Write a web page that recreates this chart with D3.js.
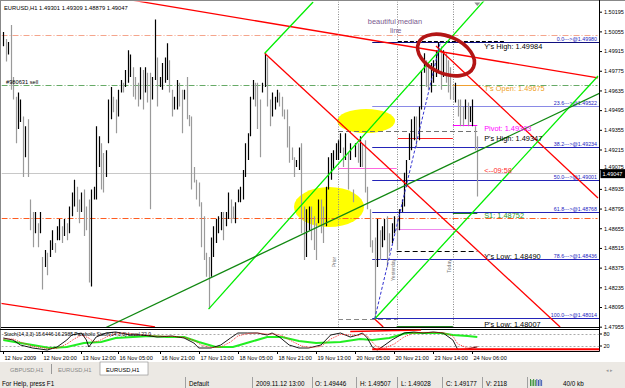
<!DOCTYPE html>
<html><head><meta charset="utf-8">
<script src="https://cdn.jsdelivr.net/npm/d3@7/dist/d3.min.js"></script>
<style>
html,body{margin:0;padding:0;background:#fff;}
svg{display:block;font-family:"Liberation Sans",Arial,sans-serif;}
</style></head><body>
<svg id="c" width="625" height="388"></svg>
<script>
// ---------- DATA ----------
const highs = [1.5005,1.5000,1.4998,1.5010,1.4973,1.4959,1.4962,1.4957,1.4945,1.4938,1.4943,1.4886,1.4877,1.4877,1.4869,1.4877,1.4845,1.4850,1.4848,1.4857,
1.4864,1.4855,1.4867,1.4872,1.4867,1.4872,1.4869,1.4881,1.4891,1.4900,1.4895,1.4886,1.4891,1.4893,1.4881,1.4886,1.4893,1.4895,1.4938,1.4931,
1.4926,1.4919,1.4921,1.4957,1.4966,1.4959,1.4957,1.4964,1.4971,1.4969,1.4978,1.4992,1.4989,1.4980,1.4973,1.4969,1.4980,1.4978,1.4980,1.4976,
1.4976,1.4973,1.5014,1.4987,1.4973,1.4983,1.4987,1.4997,1.4985,1.4964,1.4959,1.4971,1.4969,1.4964,1.4964,1.4973,1.4946,1.4945,1.4909,1.4900,
1.4898,1.4884,1.4874,1.4848,1.4845,1.4859,1.4867,1.4872,1.4874,1.4877,1.4877,1.4877,1.4891,1.4886,1.4881,1.4884,1.4893,1.4895,1.4907,1.4926,
1.4933,1.4959,1.4971,1.4969,1.4969,1.4957,1.4969,1.4990,1.4987,1.4957,1.4962,1.4959,1.4964,1.4962,1.4959,1.4950,1.4950,1.4938,1.4923,1.4916,
1.4914,1.4923,1.4926,1.4881,1.4879,1.4881,1.4881,1.4874,1.4869,1.4886,1.4886,1.4881,1.4895,1.4916,1.4919,1.4921,1.4926,1.4928,1.4933,1.4923,
1.4933,1.4919,1.4926,1.4893,1.4926,1.4926,1.4931,1.4926,1.4928,1.4895,1.4879,1.4857,1.4859,1.4872,1.4864,1.4867,1.4872,1.4874,1.4862,1.4869,
1.4874,1.4872,1.4879,1.4886,1.4905,1.4914,1.4933,1.4943,1.4945,1.4945,1.4952,1.4978,1.4990,1.4985,1.4980,1.4983,1.4985,1.4992,1.4998,1.4995,
1.4992,1.4990,1.4985,1.4980,1.4966,1.4969,1.4957,1.4957,1.4952,1.4957,1.4955,1.4952,1.4957,1.4938,1.4931];
const lows = [1.4995,1.4984,1.4989,1.4964,1.4957,1.4926,1.4936,1.4941,1.4902,1.4916,1.4902,1.4864,1.4852,1.4862,1.4852,1.4862,1.4822,1.4838,1.4832,1.4845,
1.4850,1.4848,1.4857,1.4857,1.4855,1.4860,1.4857,1.4862,1.4874,1.4881,1.4877,1.4869,1.4877,1.4860,1.4864,1.4827,1.4824,1.4886,1.4886,1.4909,
1.4893,1.4891,1.4902,1.4926,1.4943,1.4948,1.4933,1.4945,1.4962,1.4962,1.4966,1.4969,1.4973,1.4959,1.4957,1.4952,1.4957,1.4950,1.4962,1.4955,
1.4879,1.4957,1.4971,1.4952,1.4966,1.4964,1.4969,1.4971,1.4962,1.4945,1.4950,1.4950,1.4952,1.4933,1.4957,1.4943,1.4938,1.4893,1.4898,1.4886,
1.4881,1.4852,1.4843,1.4831,1.4808,1.4831,1.4845,1.4855,1.4862,1.4864,1.4857,1.4867,1.4872,1.4869,1.4872,1.4869,1.4884,1.4884,1.4886,1.4902,
1.4914,1.4931,1.4957,1.4952,1.4936,1.4916,1.4962,1.4966,1.4952,1.4938,1.4945,1.4950,1.4955,1.4952,1.4945,1.4943,1.4923,1.4912,1.4914,1.4902,
1.4909,1.4907,1.4862,1.4843,1.4845,1.4864,1.4857,1.4850,1.4843,1.4869,1.4862,1.4855,1.4867,1.4893,1.4900,1.4907,1.4914,1.4914,1.4919,1.4909,
1.4914,1.4893,1.4914,1.4884,1.4916,1.4912,1.4909,1.4909,1.4891,1.4879,1.4852,1.4848,1.4801,1.4838,1.4843,1.4852,1.4857,1.4838,1.4848,1.4855,
1.4862,1.4850,1.4864,1.4877,1.4881,1.4895,1.4914,1.4921,1.4928,1.4923,1.4928,1.4950,1.4976,1.4966,1.4964,1.4962,1.4969,1.4973,1.4978,1.4964,
1.4973,1.4969,1.4962,1.4957,1.4957,1.4955,1.4945,1.4938,1.4938,1.4943,1.4938,1.4941,1.4938,1.4921,1.4888];

const priceTicks = [1.50195,1.50055,1.49915,1.49775,1.49635,1.49495,1.49355,1.49215,1.49075,1.48935,1.48795,1.48655,1.48515,1.48375,1.48235,1.48095,1.47955];
const timeTickBars = [0,16,32,47,64,80,96,112,128,144,160,176,192];
const timeTickLabels = ["12 Nov 2009","12 Nov 20:00","13 Nov 12:00","16 Nov 05:00","16 Nov 21:00","17 Nov 13:00","18 Nov 05:00","18 Nov 21:00","19 Nov 13:00","20 Nov 05:00","20 Nov 21:00","23 Nov 14:00","24 Nov 06:00"];

const fibLevels = [1.49980,1.49522,1.49234,1.49001,1.48768,1.48436,1.48014];
const fibNames  = ["0.0","23.6","38.2","50.0","61.8","78.6","100.0"];

const hLevels = [1.5003, 1.49675, 1.49047, 1.4873]; // salmon, green (order), bid, orange
const separators = [137, 161, 184];
const sepNames = ["Prior","Yesterday","Today"];

const redLines = [[[50,1.50285],[243.4,1.49724]], [[-2,1.48124],[62.1,1.47953]], [[107,1.4990],[227.9,1.47953]], [[177.1,1.49951],[243.4,1.48870]], [[152,1.4801],[155.5,1.47953]]];
const limeLines = [[[107,1.4990],[126.8,1.50264]], [[84,1.4808],[197,1.50278]], [[152,1.4801],[243.4,1.49738]]];
const darkGreenLines = [[[41.6,1.47946],[244.2,1.49617]]];
const blueDashLines = [[[152,1.4801],[178.8,1.49972]]];

// pivot segments: [fromBar, toBar, price, color, dash]
const segs = [
  [161.5,205.3,1.49984,"#000000","4,2"],
  [137,194,1.49347,"#707070","5,3"],
  [161.5,184,1.49299,"#ff2020",null],
  [184,194,1.4939,"#ff00ff",null],
  [137,161,1.49086,"#ff66dd",null],
  [161,184,1.4865,"#ee88ee",null],
  [184,194,1.4876,"#208020",null],
  [161,184,1.47958,"#208020",null],
  [161,194,1.4849,"#000000","5,3"],
  [137,161,1.48007,"#888888","5,3"],
  [184,194,1.49675,"#f0a030",null]
];
const pivotLabels = [
  ["Y's High: 1.49984", 1.49933, "#000000"],
  ["T's Open: 1.49675", 1.49631, "#f0a020"],
  ["Pivot: 1.49303", 1.49348, "#ff00ff"],
  ["P's High: 1.49347", 1.49272, "#000000"],
  ["<--09:58", 1.49048, "#ff2a2a"],
  ["S1: 1.48752", 1.48728, "#2a9a2a"],
  ["Y's Low: 1.48490", 1.48436, "#000000"],
  ["P's Low: 1.48007", 1.47953, "#000000"]
];
const yellowMarks = [[148.5,1.49417,29,12],[133.3,1.48806,35,20]];
const circleMark = [181.2,1.49887];
const noteLines = [["beautiful median",160.3,1.50104],["line",160.6,1.50040]];

// Stochastic panel (bar index, value)
const stochK = [[0,60],[4,50],[7,25],[12,10],[18,0],[22,15],[26,50],[28,75],[32,85],[34,50],[35,15],[38,65],[42,85],[46,90],[52,75],[57,75],[63,65],[69,70],[74,60],[78,35],[80,10],[85,10],[89,25],[93,60],[96,85],[100,85],[104,85],[108,75],[110,85],[113,65],[117,25],[121,10],[125,10],[130,25],[134,75],[138,85],[142,65],[145,75],[147,85],[149,60],[151,15],[153,0],[155,15],[159,50],[164,85],[168,90],[172,85],[176,90],[180,85],[184,50],[186,2],[190,5],[194,15.6]];
const stochD = [[0,55],[4,55],[7,40],[12,18],[18,8],[22,8],[26,30],[29,55],[32,75],[35,60],[37,40],[39,45],[43,70],[47,85],[52,82],[57,75],[63,70],[70,68],[74,63],[78,48],[81,25],[85,12],[89,15],[93,40],[96,70],[100,82],[104,85],[108,80],[111,80],[114,72],[118,45],[122,20],[126,12],[130,18],[134,55],[138,78],[142,75],[145,72],[147,80],[149,70],[151,40],[153,15],[156,10],[160,30],[164,65],[168,85],[172,88],[176,88],[180,87],[184,70],[186,30],[190,10],[194,16.3]];
const limeInd = [[0,50],[7,35],[12,25],[19,10],[26,15],[33,35],[40,40],[46,60],[53,65],[60,70],[67,65],[74,65],[80,40],[87,15],[94,15],[101,40],[108,65],[114,65],[121,45],[128,35],[138,40],[146,55],[151,50],[158,60],[165,85],[173,85],[179,85],[184,75],[190,70],[194,65]];
const stochLevels = [80,20];

const statusTexts = ["For Help, press F1","Default","2009.11.12 13:00","O: 1.49446","H: 1.49507","L: 1.49028","C: 1.49177","V: 2118","40/0 kb"];
const tabNames = ["GBPUSD,H1","EURUSD,H1","EURUSD,H1"];

// ---------- LAYOUT ----------
const svg = d3.select("#c");
const L=1.5, R=599.5, T=1.5, B=327.5;
const x = d3.scaleLinear().domain([0, highs.length-1]).range([3.3, 477.3]);
const y = d3.scaleLinear().domain([1.47955,1.50195]).range([326.7,11.7]);
const sy = d3.scaleLinear().domain([0,100]).range([350,330]);

svg.append("rect").attr("width",625).attr("height",388).attr("fill","#fff");
const defs = svg.append("defs");
defs.append("clipPath").attr("id","main").append("rect").attr("x",L).attr("y",T).attr("width",R-L).attr("height",B-T);
defs.append("clipPath").attr("id","sub").append("rect").attr("x",L).attr("y",329.5).attr("width",R-L).attr("height",21.5);

const g = svg.append("g").attr("clip-path","url(#main)");

// yellow highlights
g.selectAll(".yl").data(yellowMarks).join("ellipse")
  .attr("cx",d=>x(d[0])).attr("cy",d=>y(d[1])).attr("rx",d=>d[2]).attr("ry",d=>d[3]).attr("fill","#ffff00");

// full width levels
const hStyles = [["#f5a58c","6,2,1,2"],["#66aa66","6,2,1,2"],["#c8c8c8",null],["#ff5c20","6,2,1,2"]];
hLevels.forEach((p,i)=>{
  g.append("line").attr("x1",L).attr("x2",R-2).attr("y1",Math.round(y(p))+0.5).attr("y2",Math.round(y(p))+0.5)
   .attr("stroke",hStyles[i][0]).attr("stroke-width",1).attr("stroke-dasharray",hStyles[i][1]);
});

// vertical separators
separators.forEach((b,i)=>{
  const xx=Math.round(x(b))+0.5;
  g.append("line").attr("x1",xx).attr("x2",xx).attr("y1",T).attr("y2",B).attr("stroke","#888").attr("stroke-dasharray","1,1.5");
  g.append("text").attr("transform",`translate(${xx-3},${[262,270,266][i]}) rotate(-90)`).attr("text-anchor","middle")
   .attr("font-size",5).attr("fill","#777").text(sepNames[i]);
});

// fib lines
fibLevels.forEach((p,i)=>{
  const yy=Math.round(y(p))+0.5;
  const col = i===0?"#101080":(i===1?"#8a8ae6":"#2424b8");
  g.append("line").attr("x1",x(151)).attr("x2",R).attr("y1",yy).attr("y2",yy).attr("stroke",col).attr("stroke-width",1.1);
  g.append("text").attr("x",597).attr("y",yy-1.5).attr("text-anchor","end").attr("font-size",5.3).attr("fill","#2222c0")
   .text(`${fibNames[i]}--->@${p.toFixed(5)}`);
});

// pivot segments
segs.forEach(s=>{
  const yy=Math.round(y(s[2]))+0.5;
  g.append("line").attr("x1",x(s[0])).attr("x2",x(s[1])).attr("y1",yy).attr("y2",yy).attr("stroke",s[3]).attr("stroke-width",1.2)
   .attr("stroke-dasharray",s[4]);
});

// bars
const mids = highs.map((h,i)=>(h+lows[i])/2);
g.selectAll(".bar").data(highs).join("line")
  .attr("x1",(d,i)=>Math.round(x(i))+0.5).attr("x2",(d,i)=>Math.round(x(i))+0.5)
  .attr("y1",d=>y(d)).attr("y2",(d,i)=>y(lows[i]))
  .attr("stroke",(d,i)=> (i>0 && mids[i]<mids[i-1]) ? "#9a9a9a" : "#000")
  .attr("stroke-width",1.2);

// trend lines
const ln = d3.line().x(d=>x(d[0])).y(d=>y(d[1]));
redLines.forEach(p=>g.append("path").attr("d",ln(p)).attr("stroke","#ff0000").attr("stroke-width",1.3).attr("fill","none"));
limeLines.forEach(p=>g.append("path").attr("d",ln(p)).attr("stroke","#00ee00").attr("stroke-width",1.3).attr("fill","none"));
darkGreenLines.forEach(p=>g.append("path").attr("d",ln(p)).attr("stroke","#118811").attr("stroke-width",1.3).attr("fill","none"));
blueDashLines.forEach(p=>g.append("path").attr("d",ln(p)).attr("stroke","#3030d0").attr("stroke-width",1).attr("stroke-dasharray","3,2").attr("fill","none"));

// hand drawn circle
const cx=x(circleMark[0]), cy=y(circleMark[1]);
g.append("ellipse").attr("cx",cx).attr("cy",cy).attr("rx",30).attr("ry",18.5)
  .attr("transform",`rotate(24,${cx},${cy})`).attr("fill","none").attr("stroke","#b31515").attr("stroke-width",3.6);

// labels
pivotLabels.forEach(l=>{
  g.append("text").attr("x",x(196.8)).attr("y",y(l[1])).attr("font-size",7.4).attr("fill",l[2]).text(l[0]);
});
noteLines.forEach(n=>g.append("text").attr("x",x(n[1])).attr("y",y(n[2])).attr("text-anchor","middle").attr("font-size",7.4).attr("fill","#7a5a8e").text(n[0]));
g.append("text").attr("x",6).attr("y",y(1.4967)-2).attr("font-size",5.7).attr("fill","#000").text("#980631 sell");
g.append("text").attr("x",4).attr("y",9.5).attr("font-size",5.8).attr("fill","#000").text("EURUSD,H1  1.49301 1.49309 1.48879 1.49047");
g.append("path").attr("d",`M${x(194)-3},2.5 L${x(194)+3},2.5 L${x(194)},6 Z`).attr("fill","#909090");

// frames
svg.append("line").attr("x1",0).attr("x2",R).attr("y1",B).attr("y2",B).attr("stroke","#000");
svg.append("line").attr("x1",0.5).attr("x2",0.5).attr("y1",0).attr("y2",351.5).attr("stroke","#888");
svg.append("line").attr("x1",0).attr("x2",625).attr("y1",0.5).attr("y2",0.5).attr("stroke","#888");
svg.append("line").attr("x1",R).attr("x2",R).attr("y1",0).attr("y2",351.5).attr("stroke","#000");

// price axis
const ax = svg.append("g").attr("transform",`translate(${R},0)`).call(d3.axisRight(y).tickValues(priceTicks).tickFormat(d3.format(".5f")).tickSize(2.5).tickPadding(2));
ax.select(".domain").remove();
ax.selectAll("text").attr("font-size",5.5).attr("font-family","Liberation Sans, Arial").attr("fill","#000")
  .attr("dy",d=>d===1.49075?"-0.1em":"0.32em");
ax.selectAll("line").attr("stroke","#000");
// current price label
const cyP = y(1.49047);
svg.append("rect").attr("x",R+1).attr("y",cyP-4).attr("width",25).attr("height",9).attr("fill","#000");
svg.append("text").attr("x",R+3).attr("y",cyP+2.5).attr("font-size",5.5).attr("fill","#fff").text("1.49047");

// ---------- stochastic subwindow ----------
svg.append("line").attr("x1",0).attr("x2",R).attr("y1",329.5).attr("y2",329.5).attr("stroke","#000");
svg.append("line").attr("x1",0).attr("x2",R).attr("y1",351.5).attr("y2",351.5).attr("stroke","#000");
const sg = svg.append("g").attr("clip-path","url(#sub)");
stochLevels.forEach(v=>sg.append("line").attr("x1",L).attr("x2",R).attr("y1",Math.round(sy(v))+0.5).attr("y2",Math.round(sy(v))+0.5)
  .attr("stroke","#aaa").attr("stroke-dasharray","2,2"));
const sl = d3.line().x(d=>x(d[0])).y(d=>sy(d[1]));
sg.append("path").attr("d",sl(limeInd)).attr("stroke","#22ee22").attr("stroke-width",2).attr("fill","none");
sg.append("path").attr("d",sl(stochK)).attr("stroke","#000").attr("stroke-width",0.9).attr("fill","none");
sg.append("path").attr("d",sl(stochD)).attr("stroke","#ff2020").attr("stroke-width",0.9).attr("stroke-dasharray","1,1").attr("fill","none");
sg.append("line").attr("x1",x(151)).attr("x2",R).attr("y1",349.3).attr("y2",349.3).attr("stroke","#ff0000").attr("stroke-width",2);
sg.append("path").attr("d",sl([[142,92.5],[171,100]])).attr("stroke","#ff0000").attr("stroke-width",1.5).attr("fill","none");
sg.append("text").attr("x",4).attr("y",336).attr("font-size",5).attr("fill","#000").text("Stoch(14,3,3) 15.6446 16.2985  Parabolic Stoch(14,3,3) Level 22.0");
stochLevels.forEach(v=>{
  svg.append("line").attr("x1",R).attr("x2",R+2.5).attr("y1",sy(v)).attr("y2",sy(v)).attr("stroke","#000");
  svg.append("text").attr("x",R+4).attr("y",sy(v)+2).attr("font-size",5.5).attr("fill","#000").text(v);
});

// time axis
const tg = svg.append("g");
timeTickBars.forEach((b,i)=>{
  const xx=Math.round(x(b))+0.5;
  tg.append("line").attr("x1",xx).attr("x2",xx).attr("y1",351.5).attr("y2",354).attr("stroke","#000");
  tg.append("text").attr("x",xx+1).attr("y",359.5).attr("font-size",5.6).attr("fill","#000").text(timeTickLabels[i]);
});

// tabs
svg.append("rect").attr("x",0).attr("y",362).attr("width",625).attr("height",14).attr("fill","#ece9e4");
svg.append("rect").attr("x",100).attr("y",362).attr("width",48).attr("height",13).attr("fill","#fff").attr("stroke","#888").attr("stroke-width",0.6);
[[10,"#888"],[58,"#888"],[106,"#000"]].forEach((t,i)=>svg.append("text").attr("x",t[0]).attr("y",372).attr("font-size",5.8).attr("fill",t[1]).text(tabNames[i]));
svg.append("line").attr("x1",51.5).attr("x2",51.5).attr("y1",364).attr("y2",374).attr("stroke","#999");
svg.append("text").attr("x",606).attr("y",372).attr("font-size",5).attr("fill","#999").text("◂  ▸");

// status bar
svg.append("rect").attr("x",0).attr("y",376).attr("width",625).attr("height",12).attr("fill","#ece9e4");
const stX = [2,189,256,315,360,401,446,486,563];
statusTexts.forEach((t,i)=>svg.append("text").attr("x",stX[i]).attr("y",385.5).attr("font-size",6.3).attr("fill","#000").text(t));
[185,252,312,356,397,442,482,527].forEach(s=>{
  svg.append("line").attr("x1",s+0.5).attr("x2",s+0.5).attr("y1",377).attr("y2",388).attr("stroke","#a0a0a0");
});
const ic = svg.append("g");
d3.range(8).forEach(i=>ic.append("rect").attr("x",530+i*1.6).attr("y",379+ (i%2)).attr("width",0.9).attr("height",7-(i%2)).attr("fill",i<4?"#2a8a2a":"#3050b0"));
</script>
</body></html>
